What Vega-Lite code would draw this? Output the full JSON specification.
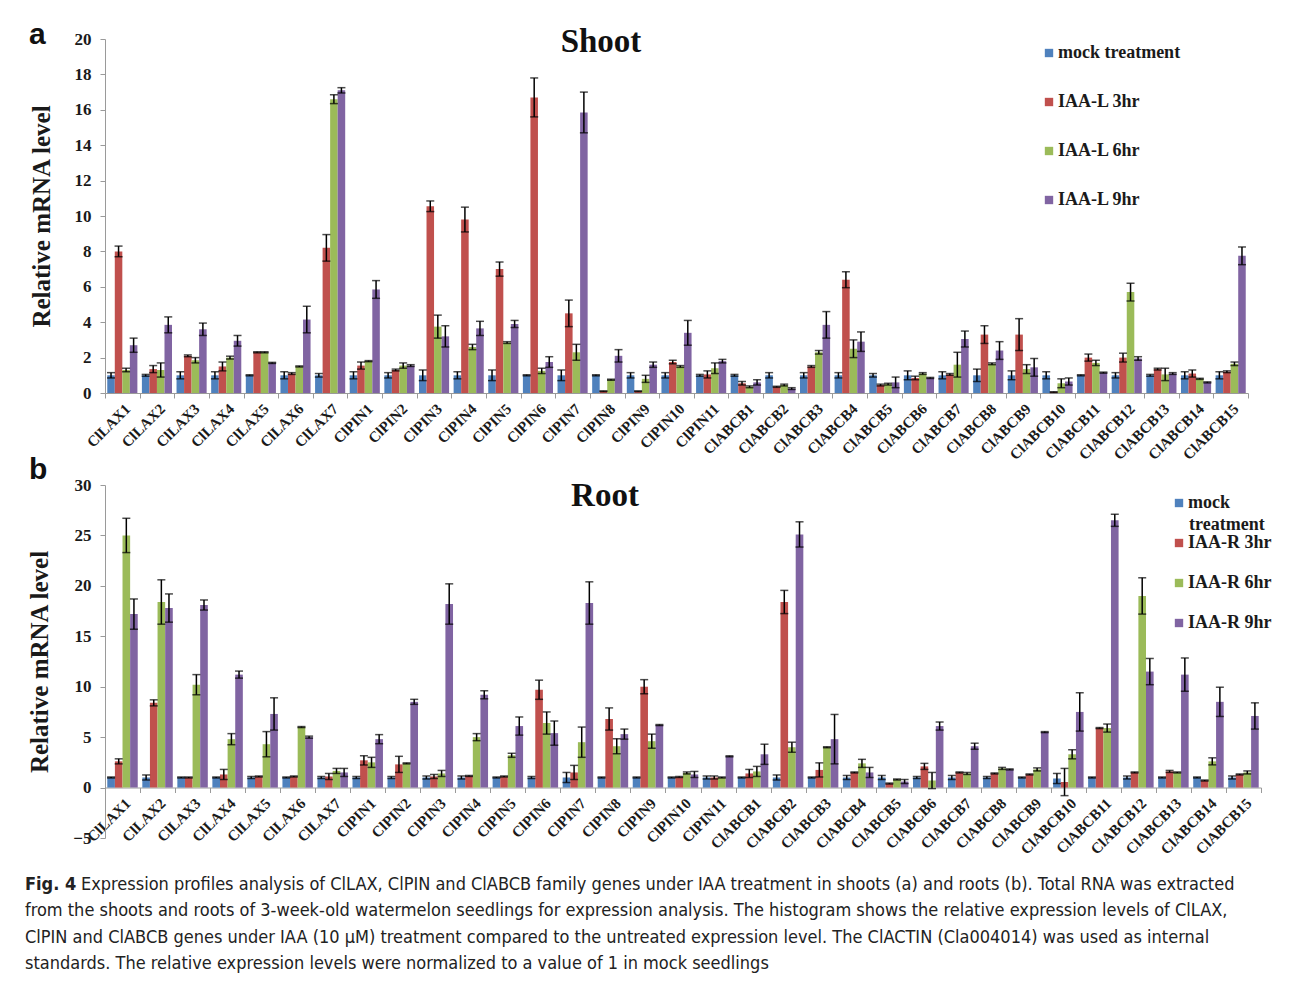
{
"$schema": "https://vega.github.io/schema/vega-lite/v6.json",
"background": "white",
"padding": {"left": 25, "top": 20, "right": 5, "bottom": 5},
"spacing": -8,
"config": {
  "view": {"stroke": null},
  "axis": {"labelFont": "Liberation Serif", "labelFontWeight": "bold", "labelColor": "#1a1a1a", "titleFont": "Liberation Serif", "titleFontWeight": "bold", "titleColor": "#1a1a1a", "domainColor": "#9a9a9a", "tickColor": "#9a9a9a", "grid": false},
  "axisY": {"labelFontSize": 17, "titleFontSize": 25, "tickSize": 5, "labelPadding": 9, "titlePadding": 20},
  "axisX": {"labelFontSize": 15, "tickSize": 5, "labelPadding": 3},
  "legend": {"labelFont": "Liberation Serif", "labelFontWeight": "bold", "labelFontSize": 18, "labelColor": "#1a1a1a", "symbolType": "square", "symbolSize": 70, "symbolStrokeWidth": 0, "title": null, "labelOffset": 0}
},
"resolve": {"scale": {"color": "independent", "x": "independent", "y": "independent", "xOffset": "independent"}, "legend": {"color": "independent"}},
"datasets": {
"shootData": [
{"g":"ClLAX1","t":"mock treatment","v":1,"e":0.15},{"g":"ClLAX1","t":"IAA-L 3hr","v":8.0,"e":0.3},{"g":"ClLAX1","t":"IAA-L 6hr","v":1.3,"e":0.1},{"g":"ClLAX1","t":"IAA-L 9hr","v":2.7,"e":0.4},
{"g":"ClLAX2","t":"mock treatment","v":1,"e":0.05},{"g":"ClLAX2","t":"IAA-L 3hr","v":1.35,"e":0.2},{"g":"ClLAX2","t":"IAA-L 6hr","v":1.3,"e":0.4},{"g":"ClLAX2","t":"IAA-L 9hr","v":3.85,"e":0.45},
{"g":"ClLAX3","t":"mock treatment","v":1,"e":0.2},{"g":"ClLAX3","t":"IAA-L 3hr","v":2.1,"e":0.05},{"g":"ClLAX3","t":"IAA-L 6hr","v":1.85,"e":0.15},{"g":"ClLAX3","t":"IAA-L 9hr","v":3.6,"e":0.35},
{"g":"ClLAX4","t":"mock treatment","v":1,"e":0.2},{"g":"ClLAX4","t":"IAA-L 3hr","v":1.5,"e":0.25},{"g":"ClLAX4","t":"IAA-L 6hr","v":2.0,"e":0.08},{"g":"ClLAX4","t":"IAA-L 9hr","v":2.95,"e":0.3},
{"g":"ClLAX5","t":"mock treatment","v":1,"e":0.03},{"g":"ClLAX5","t":"IAA-L 3hr","v":2.3,"e":0.03},{"g":"ClLAX5","t":"IAA-L 6hr","v":2.3,"e":0.03},{"g":"ClLAX5","t":"IAA-L 9hr","v":1.7,"e":0.03},
{"g":"ClLAX6","t":"mock treatment","v":1,"e":0.2},{"g":"ClLAX6","t":"IAA-L 3hr","v":1.1,"e":0.05},{"g":"ClLAX6","t":"IAA-L 6hr","v":1.5,"e":0.03},{"g":"ClLAX6","t":"IAA-L 9hr","v":4.15,"e":0.75},
{"g":"ClLAX7","t":"mock treatment","v":1,"e":0.1},{"g":"ClLAX7","t":"IAA-L 3hr","v":8.2,"e":0.75},{"g":"ClLAX7","t":"IAA-L 6hr","v":16.6,"e":0.25},{"g":"ClLAX7","t":"IAA-L 9hr","v":17.1,"e":0.15},
{"g":"ClPIN1","t":"mock treatment","v":1,"e":0.2},{"g":"ClPIN1","t":"IAA-L 3hr","v":1.55,"e":0.2},{"g":"ClPIN1","t":"IAA-L 6hr","v":1.8,"e":0.03},{"g":"ClPIN1","t":"IAA-L 9hr","v":5.85,"e":0.5},
{"g":"ClPIN2","t":"mock treatment","v":1,"e":0.15},{"g":"ClPIN2","t":"IAA-L 3hr","v":1.3,"e":0.05},{"g":"ClPIN2","t":"IAA-L 6hr","v":1.55,"e":0.15},{"g":"ClPIN2","t":"IAA-L 9hr","v":1.55,"e":0.05},
{"g":"ClPIN3","t":"mock treatment","v":1,"e":0.3},{"g":"ClPIN3","t":"IAA-L 3hr","v":10.55,"e":0.3},{"g":"ClPIN3","t":"IAA-L 6hr","v":3.75,"e":0.65},{"g":"ClPIN3","t":"IAA-L 9hr","v":3.2,"e":0.6},
{"g":"ClPIN4","t":"mock treatment","v":1,"e":0.2},{"g":"ClPIN4","t":"IAA-L 3hr","v":9.8,"e":0.7},{"g":"ClPIN4","t":"IAA-L 6hr","v":2.6,"e":0.15},{"g":"ClPIN4","t":"IAA-L 9hr","v":3.65,"e":0.4},
{"g":"ClPIN5","t":"mock treatment","v":1,"e":0.3},{"g":"ClPIN5","t":"IAA-L 3hr","v":7.0,"e":0.4},{"g":"ClPIN5","t":"IAA-L 6hr","v":2.85,"e":0.05},{"g":"ClPIN5","t":"IAA-L 9hr","v":3.9,"e":0.2},
{"g":"ClPIN6","t":"mock treatment","v":1,"e":0.03},{"g":"ClPIN6","t":"IAA-L 3hr","v":16.7,"e":1.1},{"g":"ClPIN6","t":"IAA-L 6hr","v":1.25,"e":0.15},{"g":"ClPIN6","t":"IAA-L 9hr","v":1.75,"e":0.3},
{"g":"ClPIN7","t":"mock treatment","v":1,"e":0.3},{"g":"ClPIN7","t":"IAA-L 3hr","v":4.5,"e":0.75},{"g":"ClPIN7","t":"IAA-L 6hr","v":2.3,"e":0.45},{"g":"ClPIN7","t":"IAA-L 9hr","v":15.85,"e":1.15},
{"g":"ClPIN8","t":"mock treatment","v":1,"e":0.03},{"g":"ClPIN8","t":"IAA-L 3hr","v":0.1,"e":0.02},{"g":"ClPIN8","t":"IAA-L 6hr","v":0.75,"e":0.03},{"g":"ClPIN8","t":"IAA-L 9hr","v":2.1,"e":0.35},
{"g":"ClPIN9","t":"mock treatment","v":1,"e":0.15},{"g":"ClPIN9","t":"IAA-L 3hr","v":0.1,"e":0.02},{"g":"ClPIN9","t":"IAA-L 6hr","v":0.8,"e":0.2},{"g":"ClPIN9","t":"IAA-L 9hr","v":1.6,"e":0.15},
{"g":"ClPIN10","t":"mock treatment","v":1,"e":0.15},{"g":"ClPIN10","t":"IAA-L 3hr","v":1.75,"e":0.1},{"g":"ClPIN10","t":"IAA-L 6hr","v":1.5,"e":0.05},{"g":"ClPIN10","t":"IAA-L 9hr","v":3.4,"e":0.7},
{"g":"ClPIN11","t":"mock treatment","v":1,"e":0.05},{"g":"ClPIN11","t":"IAA-L 3hr","v":1.05,"e":0.2},{"g":"ClPIN11","t":"IAA-L 6hr","v":1.4,"e":0.3},{"g":"ClPIN11","t":"IAA-L 9hr","v":1.8,"e":0.1},
{"g":"ClABCB1","t":"mock treatment","v":1,"e":0.05},{"g":"ClABCB1","t":"IAA-L 3hr","v":0.55,"e":0.1},{"g":"ClABCB1","t":"IAA-L 6hr","v":0.35,"e":0.05},{"g":"ClABCB1","t":"IAA-L 9hr","v":0.6,"e":0.15},
{"g":"ClABCB2","t":"mock treatment","v":1,"e":0.15},{"g":"ClABCB2","t":"IAA-L 3hr","v":0.35,"e":0.03},{"g":"ClABCB2","t":"IAA-L 6hr","v":0.45,"e":0.05},{"g":"ClABCB2","t":"IAA-L 9hr","v":0.25,"e":0.05},
{"g":"ClABCB3","t":"mock treatment","v":1,"e":0.15},{"g":"ClABCB3","t":"IAA-L 3hr","v":1.5,"e":0.05},{"g":"ClABCB3","t":"IAA-L 6hr","v":2.3,"e":0.1},{"g":"ClABCB3","t":"IAA-L 9hr","v":3.85,"e":0.75},
{"g":"ClABCB4","t":"mock treatment","v":1,"e":0.15},{"g":"ClABCB4","t":"IAA-L 3hr","v":6.4,"e":0.45},{"g":"ClABCB4","t":"IAA-L 6hr","v":2.5,"e":0.5},{"g":"ClABCB4","t":"IAA-L 9hr","v":2.9,"e":0.55},
{"g":"ClABCB5","t":"mock treatment","v":1,"e":0.1},{"g":"ClABCB5","t":"IAA-L 3hr","v":0.45,"e":0.05},{"g":"ClABCB5","t":"IAA-L 6hr","v":0.5,"e":0.05},{"g":"ClABCB5","t":"IAA-L 9hr","v":0.6,"e":0.3},
{"g":"ClABCB6","t":"mock treatment","v":1,"e":0.25},{"g":"ClABCB6","t":"IAA-L 3hr","v":0.85,"e":0.1},{"g":"ClABCB6","t":"IAA-L 6hr","v":1.1,"e":0.05},{"g":"ClABCB6","t":"IAA-L 9hr","v":0.85,"e":0.03},
{"g":"ClABCB7","t":"mock treatment","v":1,"e":0.2},{"g":"ClABCB7","t":"IAA-L 3hr","v":1.05,"e":0.05},{"g":"ClABCB7","t":"IAA-L 6hr","v":1.6,"e":0.7},{"g":"ClABCB7","t":"IAA-L 9hr","v":3.05,"e":0.45},
{"g":"ClABCB8","t":"mock treatment","v":1,"e":0.35},{"g":"ClABCB8","t":"IAA-L 3hr","v":3.3,"e":0.5},{"g":"ClABCB8","t":"IAA-L 6hr","v":1.65,"e":0.05},{"g":"ClABCB8","t":"IAA-L 9hr","v":2.4,"e":0.5},
{"g":"ClABCB9","t":"mock treatment","v":1,"e":0.25},{"g":"ClABCB9","t":"IAA-L 3hr","v":3.3,"e":0.9},{"g":"ClABCB9","t":"IAA-L 6hr","v":1.35,"e":0.25},{"g":"ClABCB9","t":"IAA-L 9hr","v":1.45,"e":0.5},
{"g":"ClABCB10","t":"mock treatment","v":1,"e":0.2},{"g":"ClABCB10","t":"IAA-L 3hr","v":0.05,"e":0.02},{"g":"ClABCB10","t":"IAA-L 6hr","v":0.55,"e":0.25},{"g":"ClABCB10","t":"IAA-L 9hr","v":0.65,"e":0.2},
{"g":"ClABCB11","t":"mock treatment","v":1,"e":0.03},{"g":"ClABCB11","t":"IAA-L 3hr","v":2.0,"e":0.2},{"g":"ClABCB11","t":"IAA-L 6hr","v":1.7,"e":0.15},{"g":"ClABCB11","t":"IAA-L 9hr","v":1.15,"e":0.03},
{"g":"ClABCB12","t":"mock treatment","v":1,"e":0.15},{"g":"ClABCB12","t":"IAA-L 3hr","v":2.0,"e":0.25},{"g":"ClABCB12","t":"IAA-L 6hr","v":5.7,"e":0.5},{"g":"ClABCB12","t":"IAA-L 9hr","v":1.95,"e":0.1},
{"g":"ClABCB13","t":"mock treatment","v":1,"e":0.05},{"g":"ClABCB13","t":"IAA-L 3hr","v":1.35,"e":0.05},{"g":"ClABCB13","t":"IAA-L 6hr","v":1.05,"e":0.35},{"g":"ClABCB13","t":"IAA-L 9hr","v":1.1,"e":0.05},
{"g":"ClABCB14","t":"mock treatment","v":1,"e":0.2},{"g":"ClABCB14","t":"IAA-L 3hr","v":1.1,"e":0.2},{"g":"ClABCB14","t":"IAA-L 6hr","v":0.8,"e":0.03},{"g":"ClABCB14","t":"IAA-L 9hr","v":0.6,"e":0.03},
{"g":"ClABCB15","t":"mock treatment","v":1,"e":0.2},{"g":"ClABCB15","t":"IAA-L 3hr","v":1.2,"e":0.05},{"g":"ClABCB15","t":"IAA-L 6hr","v":1.65,"e":0.1},{"g":"ClABCB15","t":"IAA-L 9hr","v":7.75,"e":0.5}
],
"rootData": [
{"g":"ClLAX1","t":"mock treatment","v":1,"e":0.05},{"g":"ClLAX1","t":"IAA-R 3hr","v":2.6,"e":0.25},{"g":"ClLAX1","t":"IAA-R 6hr","v":25.0,"e":1.7},{"g":"ClLAX1","t":"IAA-R 9hr","v":17.2,"e":1.5},
{"g":"ClLAX2","t":"mock treatment","v":1,"e":0.25},{"g":"ClLAX2","t":"IAA-R 3hr","v":8.4,"e":0.3},{"g":"ClLAX2","t":"IAA-R 6hr","v":18.4,"e":2.2},{"g":"ClLAX2","t":"IAA-R 9hr","v":17.8,"e":1.4},
{"g":"ClLAX3","t":"mock treatment","v":1,"e":0.05},{"g":"ClLAX3","t":"IAA-R 3hr","v":1.0,"e":0.05},{"g":"ClLAX3","t":"IAA-R 6hr","v":10.2,"e":1.0},{"g":"ClLAX3","t":"IAA-R 9hr","v":18.1,"e":0.5},
{"g":"ClLAX4","t":"mock treatment","v":1,"e":0.05},{"g":"ClLAX4","t":"IAA-R 3hr","v":1.3,"e":0.5},{"g":"ClLAX4","t":"IAA-R 6hr","v":4.8,"e":0.55},{"g":"ClLAX4","t":"IAA-R 9hr","v":11.2,"e":0.35},
{"g":"ClLAX5","t":"mock treatment","v":1,"e":0.1},{"g":"ClLAX5","t":"IAA-R 3hr","v":1.1,"e":0.05},{"g":"ClLAX5","t":"IAA-R 6hr","v":4.3,"e":1.25},{"g":"ClLAX5","t":"IAA-R 9hr","v":7.3,"e":1.6},
{"g":"ClLAX6","t":"mock treatment","v":1,"e":0.05},{"g":"ClLAX6","t":"IAA-R 3hr","v":1.1,"e":0.05},{"g":"ClLAX6","t":"IAA-R 6hr","v":6.0,"e":0.05},{"g":"ClLAX6","t":"IAA-R 9hr","v":5.0,"e":0.1},
{"g":"ClLAX7","t":"mock treatment","v":1,"e":0.1},{"g":"ClLAX7","t":"IAA-R 3hr","v":1.1,"e":0.3},{"g":"ClLAX7","t":"IAA-R 6hr","v":1.65,"e":0.25},{"g":"ClLAX7","t":"IAA-R 9hr","v":1.5,"e":0.4},
{"g":"ClPIN1","t":"mock treatment","v":1,"e":0.1},{"g":"ClPIN1","t":"IAA-R 3hr","v":2.7,"e":0.45},{"g":"ClPIN1","t":"IAA-R 6hr","v":2.5,"e":0.5},{"g":"ClPIN1","t":"IAA-R 9hr","v":4.8,"e":0.45},
{"g":"ClPIN2","t":"mock treatment","v":1,"e":0.1},{"g":"ClPIN2","t":"IAA-R 3hr","v":2.3,"e":0.8},{"g":"ClPIN2","t":"IAA-R 6hr","v":2.4,"e":0.05},{"g":"ClPIN2","t":"IAA-R 9hr","v":8.5,"e":0.25},
{"g":"ClPIN3","t":"mock treatment","v":1,"e":0.15},{"g":"ClPIN3","t":"IAA-R 3hr","v":1.1,"e":0.2},{"g":"ClPIN3","t":"IAA-R 6hr","v":1.4,"e":0.3},{"g":"ClPIN3","t":"IAA-R 9hr","v":18.2,"e":2.0},
{"g":"ClPIN4","t":"mock treatment","v":1,"e":0.15},{"g":"ClPIN4","t":"IAA-R 3hr","v":1.15,"e":0.05},{"g":"ClPIN4","t":"IAA-R 6hr","v":5.0,"e":0.35},{"g":"ClPIN4","t":"IAA-R 9hr","v":9.2,"e":0.4},
{"g":"ClPIN5","t":"mock treatment","v":1,"e":0.05},{"g":"ClPIN5","t":"IAA-R 3hr","v":1.1,"e":0.05},{"g":"ClPIN5","t":"IAA-R 6hr","v":3.2,"e":0.2},{"g":"ClPIN5","t":"IAA-R 9hr","v":6.1,"e":0.9},
{"g":"ClPIN6","t":"mock treatment","v":1,"e":0.1},{"g":"ClPIN6","t":"IAA-R 3hr","v":9.7,"e":0.95},{"g":"ClPIN6","t":"IAA-R 6hr","v":6.4,"e":1.1},{"g":"ClPIN6","t":"IAA-R 9hr","v":5.4,"e":1.2},
{"g":"ClPIN7","t":"mock treatment","v":1,"e":0.5},{"g":"ClPIN7","t":"IAA-R 3hr","v":1.5,"e":0.7},{"g":"ClPIN7","t":"IAA-R 6hr","v":4.5,"e":1.5},{"g":"ClPIN7","t":"IAA-R 9hr","v":18.3,"e":2.1},
{"g":"ClPIN8","t":"mock treatment","v":1,"e":0.05},{"g":"ClPIN8","t":"IAA-R 3hr","v":6.8,"e":1.1},{"g":"ClPIN8","t":"IAA-R 6hr","v":4.1,"e":0.75},{"g":"ClPIN8","t":"IAA-R 9hr","v":5.3,"e":0.5},
{"g":"ClPIN9","t":"mock treatment","v":1,"e":0.05},{"g":"ClPIN9","t":"IAA-R 3hr","v":10.0,"e":0.7},{"g":"ClPIN9","t":"IAA-R 6hr","v":4.6,"e":0.7},{"g":"ClPIN9","t":"IAA-R 9hr","v":6.2,"e":0.05},
{"g":"ClPIN10","t":"mock treatment","v":1,"e":0.05},{"g":"ClPIN10","t":"IAA-R 3hr","v":1.05,"e":0.05},{"g":"ClPIN10","t":"IAA-R 6hr","v":1.45,"e":0.1},{"g":"ClPIN10","t":"IAA-R 9hr","v":1.3,"e":0.3},
{"g":"ClPIN11","t":"mock treatment","v":1,"e":0.15},{"g":"ClPIN11","t":"IAA-R 3hr","v":1.0,"e":0.15},{"g":"ClPIN11","t":"IAA-R 6hr","v":1.0,"e":0.05},{"g":"ClPIN11","t":"IAA-R 9hr","v":3.1,"e":0.05},
{"g":"ClABCB1","t":"mock treatment","v":1,"e":0.05},{"g":"ClABCB1","t":"IAA-R 3hr","v":1.4,"e":0.4},{"g":"ClABCB1","t":"IAA-R 6hr","v":1.6,"e":0.5},{"g":"ClABCB1","t":"IAA-R 9hr","v":3.3,"e":1.0},
{"g":"ClABCB2","t":"mock treatment","v":1,"e":0.25},{"g":"ClABCB2","t":"IAA-R 3hr","v":18.4,"e":1.15},{"g":"ClABCB2","t":"IAA-R 6hr","v":4.0,"e":0.5},{"g":"ClABCB2","t":"IAA-R 9hr","v":25.1,"e":1.25},
{"g":"ClABCB3","t":"mock treatment","v":1,"e":0.05},{"g":"ClABCB3","t":"IAA-R 3hr","v":1.75,"e":0.7},{"g":"ClABCB3","t":"IAA-R 6hr","v":4.0,"e":0.05},{"g":"ClABCB3","t":"IAA-R 9hr","v":4.8,"e":2.45},
{"g":"ClABCB4","t":"mock treatment","v":1,"e":0.2},{"g":"ClABCB4","t":"IAA-R 3hr","v":1.5,"e":0.05},{"g":"ClABCB4","t":"IAA-R 6hr","v":2.4,"e":0.4},{"g":"ClABCB4","t":"IAA-R 9hr","v":1.5,"e":0.5},
{"g":"ClABCB5","t":"mock treatment","v":1,"e":0.2},{"g":"ClABCB5","t":"IAA-R 3hr","v":0.4,"e":0.05},{"g":"ClABCB5","t":"IAA-R 6hr","v":0.8,"e":0.05},{"g":"ClABCB5","t":"IAA-R 9hr","v":0.6,"e":0.2},
{"g":"ClABCB6","t":"mock treatment","v":1,"e":0.1},{"g":"ClABCB6","t":"IAA-R 3hr","v":2.1,"e":0.3},{"g":"ClABCB6","t":"IAA-R 6hr","v":0.7,"e":0.8},{"g":"ClABCB6","t":"IAA-R 9hr","v":6.1,"e":0.4},
{"g":"ClABCB7","t":"mock treatment","v":1,"e":0.2},{"g":"ClABCB7","t":"IAA-R 3hr","v":1.5,"e":0.05},{"g":"ClABCB7","t":"IAA-R 6hr","v":1.4,"e":0.1},{"g":"ClABCB7","t":"IAA-R 9hr","v":4.1,"e":0.3},
{"g":"ClABCB8","t":"mock treatment","v":1,"e":0.1},{"g":"ClABCB8","t":"IAA-R 3hr","v":1.4,"e":0.05},{"g":"ClABCB8","t":"IAA-R 6hr","v":1.9,"e":0.1},{"g":"ClABCB8","t":"IAA-R 9hr","v":1.8,"e":0.05},
{"g":"ClABCB9","t":"mock treatment","v":1,"e":0.05},{"g":"ClABCB9","t":"IAA-R 3hr","v":1.3,"e":0.05},{"g":"ClABCB9","t":"IAA-R 6hr","v":1.8,"e":0.15},{"g":"ClABCB9","t":"IAA-R 9hr","v":5.5,"e":0.05},
{"g":"ClABCB10","t":"mock treatment","v":0.9,"e":0.5},{"g":"ClABCB10","t":"IAA-R 3hr","v":0.55,"e":1.35},{"g":"ClABCB10","t":"IAA-R 6hr","v":3.3,"e":0.45},{"g":"ClABCB10","t":"IAA-R 9hr","v":7.5,"e":1.9},
{"g":"ClABCB11","t":"mock treatment","v":1,"e":0.05},{"g":"ClABCB11","t":"IAA-R 3hr","v":5.9,"e":0.05},{"g":"ClABCB11","t":"IAA-R 6hr","v":5.9,"e":0.4},{"g":"ClABCB11","t":"IAA-R 9hr","v":26.5,"e":0.6},
{"g":"ClABCB12","t":"mock treatment","v":1,"e":0.15},{"g":"ClABCB12","t":"IAA-R 3hr","v":1.5,"e":0.05},{"g":"ClABCB12","t":"IAA-R 6hr","v":19.0,"e":1.8},{"g":"ClABCB12","t":"IAA-R 9hr","v":11.5,"e":1.3},
{"g":"ClABCB13","t":"mock treatment","v":1,"e":0.05},{"g":"ClABCB13","t":"IAA-R 3hr","v":1.6,"e":0.1},{"g":"ClABCB13","t":"IAA-R 6hr","v":1.5,"e":0.05},{"g":"ClABCB13","t":"IAA-R 9hr","v":11.2,"e":1.65},
{"g":"ClABCB14","t":"mock treatment","v":1,"e":0.05},{"g":"ClABCB14","t":"IAA-R 3hr","v":0.7,"e":0.05},{"g":"ClABCB14","t":"IAA-R 6hr","v":2.6,"e":0.35},{"g":"ClABCB14","t":"IAA-R 9hr","v":8.5,"e":1.45},
{"g":"ClABCB15","t":"mock treatment","v":1,"e":0.15},{"g":"ClABCB15","t":"IAA-R 3hr","v":1.3,"e":0.05},{"g":"ClABCB15","t":"IAA-R 6hr","v":1.5,"e":0.15},{"g":"ClABCB15","t":"IAA-R 9hr","v":7.1,"e":1.3}
],
"captionData": [
{"line":1,"p":"f","txt":"Fig. 4"},
{"line":1,"p":"a","txt":"Expression profiles analysis of ClLAX, ClPIN and ClABCB family genes under IAA treatment in shoots (a) and roots (b). Total RNA was extracted"},
{"line":2,"p":"b","txt":"from the shoots and roots of 3-week-old watermelon seedlings for expression analysis. The histogram shows the relative expression levels of ClLAX,"},
{"line":3,"p":"b","txt":"ClPIN and ClABCB genes under IAA (10 μM) treatment compared to the untreated expression level. The ClACTIN (Cla004014) was used as internal"},
{"line":4,"p":"b","txt":"standards. The relative expression levels were normalized to a value of 1 in mock seedlings"}
]
},
"vconcat": [
{
  "width": 1143, "height": 354,
  "layer": [
    {
      "data": {"name": "shootData"},
      "encoding": {
        "x": {"field": "g", "type": "nominal", "sort": null, "scale": {"paddingInner": 0, "paddingOuter": 0}, "axis": {"title": null, "labelAngle": -45, "tickBand": "extent"}},
        "xOffset": {"field": "t", "type": "nominal", "sort": null, "scale": {"paddingOuter": 0.3, "paddingInner": 0}},
        "y": {"field": "v", "type": "quantitative", "scale": {"domain": [0, 20], "nice": false}, "axis": {"title": "Relative mRNA level", "values": [0,2,4,6,8,10,12,14,16,18,20]}}
      },
      "layer": [
        {"mark": {"type": "bar"}, "encoding": {"color": {"field": "t", "type": "nominal", "scale": {"domain": ["mock treatment","IAA-L 3hr","IAA-L 6hr","IAA-L 9hr"], "range": ["#4f81bd","#c0504d","#9bbb59","#8064a2"]}, "legend": {"orient": "none", "legendX": 935, "legendY": 5, "rowPadding": 31}}}},
        {"mark": {"type": "errorbar", "ticks": true, "size": 8, "thickness": 1.5, "color": "#000000"}, "encoding": {"yError": {"field": "e"}}}
      ]
    },
    {"data": {"values": [{"l": "Shoot"}]}, "mark": {"type": "text", "font": "Liberation Serif", "fontWeight": "bold", "fontSize": 33, "align": "center", "baseline": "middle", "color": "#111"}, "encoding": {"text": {"field": "l"}, "x": {"value": 496}, "y": {"value": 3}}},
    {"data": {"values": [{"l": "a"}]}, "mark": {"type": "text", "font": "Liberation Sans", "fontWeight": "bold", "fontSize": 30, "align": "left", "baseline": "middle", "color": "#111"}, "encoding": {"text": {"field": "l"}, "x": {"value": -76}, "y": {"value": -4}}}
  ]
},
{
  "width": 1156, "height": 353,
  "layer": [
    {
      "data": {"name": "rootData"},
      "encoding": {
        "x": {"field": "g", "type": "nominal", "sort": null, "scale": {"paddingInner": 0, "paddingOuter": 0}, "axis": {"title": null, "labelAngle": -45, "tickBand": "extent", "offset": -50.5}},
        "xOffset": {"field": "t", "type": "nominal", "sort": null, "scale": {"paddingOuter": 0.3, "paddingInner": 0}},
        "y": {"field": "v", "type": "quantitative", "scale": {"domain": [-5, 30], "nice": false}, "axis": {"title": "Relative mRNA level", "values": [-5,0,5,10,15,20,25,30]}}
      },
      "layer": [
        {"mark": {"type": "bar"}, "encoding": {"color": {"field": "t", "type": "nominal", "scale": {"domain": ["mock treatment","IAA-R 3hr","IAA-R 6hr","IAA-R 9hr"], "range": ["#4f81bd","#c0504d","#9bbb59","#8064a2"]}, "legend": {"orient": "none", "legendX": 1065, "legendY": 9, "rowPadding": 22, "labelExpr": "datum.label == 'mock treatment' ? 'mock' : datum.label"}}}},
        {"mark": {"type": "errorbar", "ticks": true, "size": 8, "thickness": 1.5, "color": "#000000"}, "encoding": {"yError": {"field": "e"}}}
      ]
    },
    {"data": {"values": [{"l": "treatment"}]}, "mark": {"type": "text", "font": "Liberation Serif", "fontWeight": "bold", "fontSize": 18, "align": "left", "baseline": "middle", "color": "#1a1a1a"}, "encoding": {"text": {"field": "l"}, "x": {"value": 1084}, "y": {"value": 40}}},
    {"data": {"values": [{"l": "Root"}]}, "mark": {"type": "text", "font": "Liberation Serif", "fontWeight": "bold", "fontSize": 33, "align": "center", "baseline": "middle", "color": "#111"}, "encoding": {"text": {"field": "l"}, "x": {"value": 500}, "y": {"value": 11}}},
    {"data": {"values": [{"l": "b"}]}, "mark": {"type": "text", "font": "Liberation Sans", "fontWeight": "bold", "fontSize": 30, "align": "left", "baseline": "middle", "color": "#111"}, "encoding": {"text": {"field": "l"}, "x": {"value": -76}, "y": {"value": -15}}}
  ]
},
{
  "width": 1143, "height": 107,
  "data": {"name": "captionData"},
  "encoding": {"y": {"field": "line", "type": "ordinal", "axis": null, "scale": {"padding": 0.532, "align": 1}}},
  "layer": [
    {"transform": [{"filter": "datum.p == 'f'"}], "mark": {"type": "text", "font": "Liberation Sans Narrow, DejaVu Sans Condensed, sans-serif", "fontWeight": "bold", "fontSize": 18, "align": "left", "baseline": "middle", "color": "#222"}, "encoding": {"text": {"field": "txt"}, "x": {"value": -80}}},
    {"transform": [{"filter": "datum.p == 'a'"}], "mark": {"type": "text", "font": "Liberation Sans Narrow, DejaVu Sans Condensed, sans-serif", "fontSize": 18, "align": "left", "baseline": "middle", "color": "#222"}, "encoding": {"text": {"field": "txt"}, "x": {"value": -24}}},
    {"transform": [{"filter": "datum.p == 'b'"}], "mark": {"type": "text", "font": "Liberation Sans Narrow, DejaVu Sans Condensed, sans-serif", "fontSize": 18, "align": "left", "baseline": "middle", "color": "#222"}, "encoding": {"text": {"field": "txt"}, "x": {"value": -80}}}
  ]
}
]
}
